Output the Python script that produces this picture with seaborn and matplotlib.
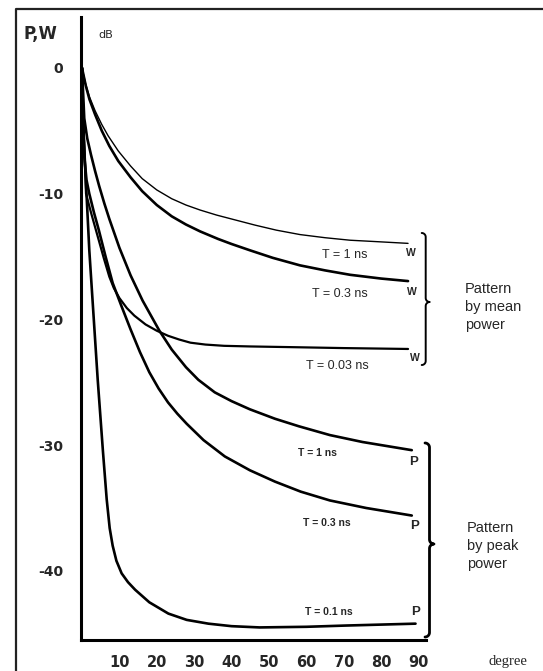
import numpy as np
import pandas as pd
import seaborn as sns
import matplotlib.pyplot as plt
from matplotlib.lines import Line2D

# Curves: angle in degree, level in dB
# Pattern by mean power (W)
w1_deg = [0, 1, 2, 3.5, 5.3, 7, 9.7, 13, 16.1, 20, 24, 27.8, 31.6, 36, 40.5, 46.3, 52, 58.3, 65, 71.7, 78, 87.2]
w1_db = [0, -1.3, -2.3, -3.4, -4.5, -5.4, -6.6, -7.8, -8.8, -9.7, -10.4, -10.9, -11.3, -11.7, -12.05, -12.5,
         -12.9, -13.25, -13.5, -13.7, -13.8, -13.95]

w2_deg = [0, 1, 2, 3.5, 5.3, 7.3, 9.7, 13, 16.1, 20, 24, 27.8, 31.6, 36.4, 40, 44.9, 51, 58.3, 65, 71.7, 80, 87.2]
w2_db = [0, -1.4, -2.5, -3.7, -5.0, -6.2, -7.4, -8.7, -9.8, -10.9, -11.8, -12.45, -13.0, -13.6, -14.0, -14.5,
         -15.1, -15.7, -16.1, -16.45, -16.75, -16.95]

w3_deg = [0, 0.4, 1.07, 2.5, 4.2, 5.8, 7.3, 8.5, 10, 12, 14, 17, 20, 23, 26, 29, 33, 38, 45, 55, 70, 87.2]
w3_db = [0, -4.5, -10.0, -11.6, -13.4, -15.1, -16.6, -17.5, -18.3, -19.1, -19.7, -20.4, -20.9, -21.3, -21.6,
         -21.85, -22.0, -22.1, -22.15, -22.2, -22.28, -22.35]

# Pattern by peak power (P)
p1_deg = [0, 0.6, 1.4, 2.4, 3.5, 4.6, 6, 7.3, 10, 13, 16.2, 20.7, 24, 27.8, 31.1, 35.5, 40, 44.9, 51.6, 58,
          66.3, 75, 88.2]
p1_db = [0, -4.0, -5.6, -6.9, -8.2, -9.4, -10.8, -12.0, -14.3, -16.5, -18.5, -20.9, -22.4, -23.8, -24.8, -25.8,
         -26.5, -27.15, -27.9, -28.5, -29.2, -29.75, -30.4]

p2_deg = [0, 0.3, 0.6, 1.2, 1.95, 3.2, 4.5, 6.3, 8.2, 10.5, 13, 15.5, 18, 20.5, 23, 25.5, 28, 32.5, 38.2, 44.9,
          51.6, 58.5, 66.3, 76, 88.2]
p2_db = [0, -4.0, -7.0, -8.9, -10.0, -11.5, -12.9, -15.0, -17.1, -18.9, -20.8, -22.6, -24.2, -25.5, -26.6, -27.5,
         -28.3, -29.6, -30.9, -32.0, -32.9, -33.7, -34.4, -35.0, -35.6]

p3_deg = [0, 0.2, 1.95, 4.2, 5.6, 6.6, 7.4, 8.2, 9.2, 10.6, 12.3, 14.2, 18, 23.1, 28, 33.8, 40, 47.5, 60, 70.6, 89.2]
p3_db = [0, -4.0, -14.5, -24.8, -30.5, -34.3, -36.6, -38.0, -39.2, -40.2, -40.9, -41.5, -42.5, -43.4, -43.9,
         -44.2, -44.4, -44.5, -44.45, -44.35, -44.2]

x_ticks = [10, 20, 30, 40, 50, 60, 70, 80, 90]
y_ticks = [-40, -35, -30, -25, -20, -15, -10, -5, 0]
y_tick_labels = ['-40', '', '-30', '', '-20', '', '-10', '', '0']

sns.set_style('white')
plt.rcParams['font.family'] = ['DejaVu Sans']

W, H = 543, 671
fig = plt.figure(figsize=(W / 100, H / 100), dpi=100)


def fx(px):
    return px / W


def fy(py):
    return 1 - py / H


ax = fig.add_axes([fx(81), fy(640), fx(426) - fx(81), fy(16.7) - fy(640)])

curves = [
    (w1_deg, w1_db, 1.0),
    (w2_deg, w2_db, 1.9),
    (w3_deg, w3_db, 1.6),
    (p1_deg, p1_db, 1.9),
    (p2_deg, p2_db, 1.9),
    (p3_deg, p3_db, 1.9),
]
for deg, db, lw in curves:
    sns.lineplot(x=deg, y=db, ax=ax, color='black', linewidth=lw,
                 estimator=None, sort=False, legend=False,
                 solid_joinstyle='round', solid_capstyle='round')

ax.set_xlim(-0.27, 92.0)
ax.set_ylim(-45.5, 4.08)
ax.set_xlabel('')
ax.set_ylabel('')

ax.set_xticks(x_ticks)
ax.set_xticklabels([str(t) for t in x_ticks], fontsize=10.5, fontweight='bold')
ax.set_yticks(y_ticks)
ax.set_yticklabels(y_tick_labels, fontsize=10, fontweight='bold')
ax.tick_params(axis='both', direction='out', length=8, width=1.8, color='black')
ax.tick_params(axis='x', pad=3)
ax.tick_params(axis='y', pad=5)

for side in ['top', 'right']:
    ax.spines[side].set_visible(False)
for side in ['left', 'bottom']:
    ax.spines[side].set_linewidth(2.2)
    ax.spines[side].set_color('black')

# axis titles
fig.text(fx(40.5), fy(34), 'P,W', fontsize=12, fontweight='bold', ha='center', va='center')
fig.text(fx(106), fy(34.5), 'dB', fontsize=8, ha='center', va='center')
fig.text(fx(508), fy(661), 'degree', fontsize=10.5, family='Liberation Serif',
         ha='center', va='center')

# curve labels
w_font = dict(family='Liberation Sans', fontsize=9, ha='center', va='center')
fig.text(fx(345), fy(255), 'T = 1 ns', **w_font)
fig.text(fx(340), fy(294), 'T = 0.3 ns', **w_font)
fig.text(fx(337), fy(366), 'T = 0.03 ns', **w_font)

p_font = dict(family='Liberation Sans', fontsize=7.5, fontweight='bold', ha='center', va='center')
fig.text(fx(317), fy(453), 'T = 1 ns', **p_font)
fig.text(fx(327), fy(523), 'T = 0.3 ns', **p_font)
fig.text(fx(329), fy(612), 'T = 0.1 ns', **p_font)

for x, y in [(411, 253), (412, 292), (415, 358)]:
    fig.text(fx(x), fy(y), 'W', family='Liberation Sans', fontsize=7.5,
             fontweight='bold', ha='center', va='center')
for x, y in [(414, 462), (415, 526), (415.5, 612)]:
    fig.text(fx(x), fy(y), 'P', family='Liberation Sans', fontsize=9.5,
             fontweight='bold', ha='center', va='center')


def arc(cx, cy, r, a0, a1):
    t = np.radians(np.linspace(a0, a1, 10))
    return list(cx + r * np.cos(t)), list(cy + r * np.sin(t))


def brace(x, top, tip, bottom, r, lw):
    # right curly brace in pixel coordinates (y pointing down)
    xs, ys = [], []
    for cx, cy, a0, a1 in [(x - r, top + r, 270, 360),
                           (x + r, tip - r, 180, 90),
                           (x + r, tip + r, 270, 180),
                           (x - r, bottom - r, 0, 90)]:
        ax_, ay_ = arc(cx, cy, r, a0, a1)
        xs += ax_
        ys += ay_
    fig.add_artist(Line2D([fx(v) for v in xs], [fy(v) for v in ys],
                          transform=fig.transFigure, color='black', lw=lw,
                          solid_capstyle='round'))


brace(425.7, 233, 302, 365, 4, 1.4)
brace(429.5, 443, 544, 637, 4.5, 2.0)

blk = dict(fontsize=10.5, family='Liberation Sans', ha='left', va='center', linespacing=1.37)
fig.text(fx(465), fy(307), 'Pattern\nby mean\npower', **blk)
fig.text(fx(467), fy(546), 'Pattern\nby peak\npower', **blk)

# outer frame of the scanned figure
fig.add_artist(Line2D([fx(15.5), fx(15.5), fx(543)], [fy(671), fy(9), fy(9)],
                      transform=fig.transFigure, color='#222222', lw=1.6))

fig.savefig('out.png', dpi=100)
